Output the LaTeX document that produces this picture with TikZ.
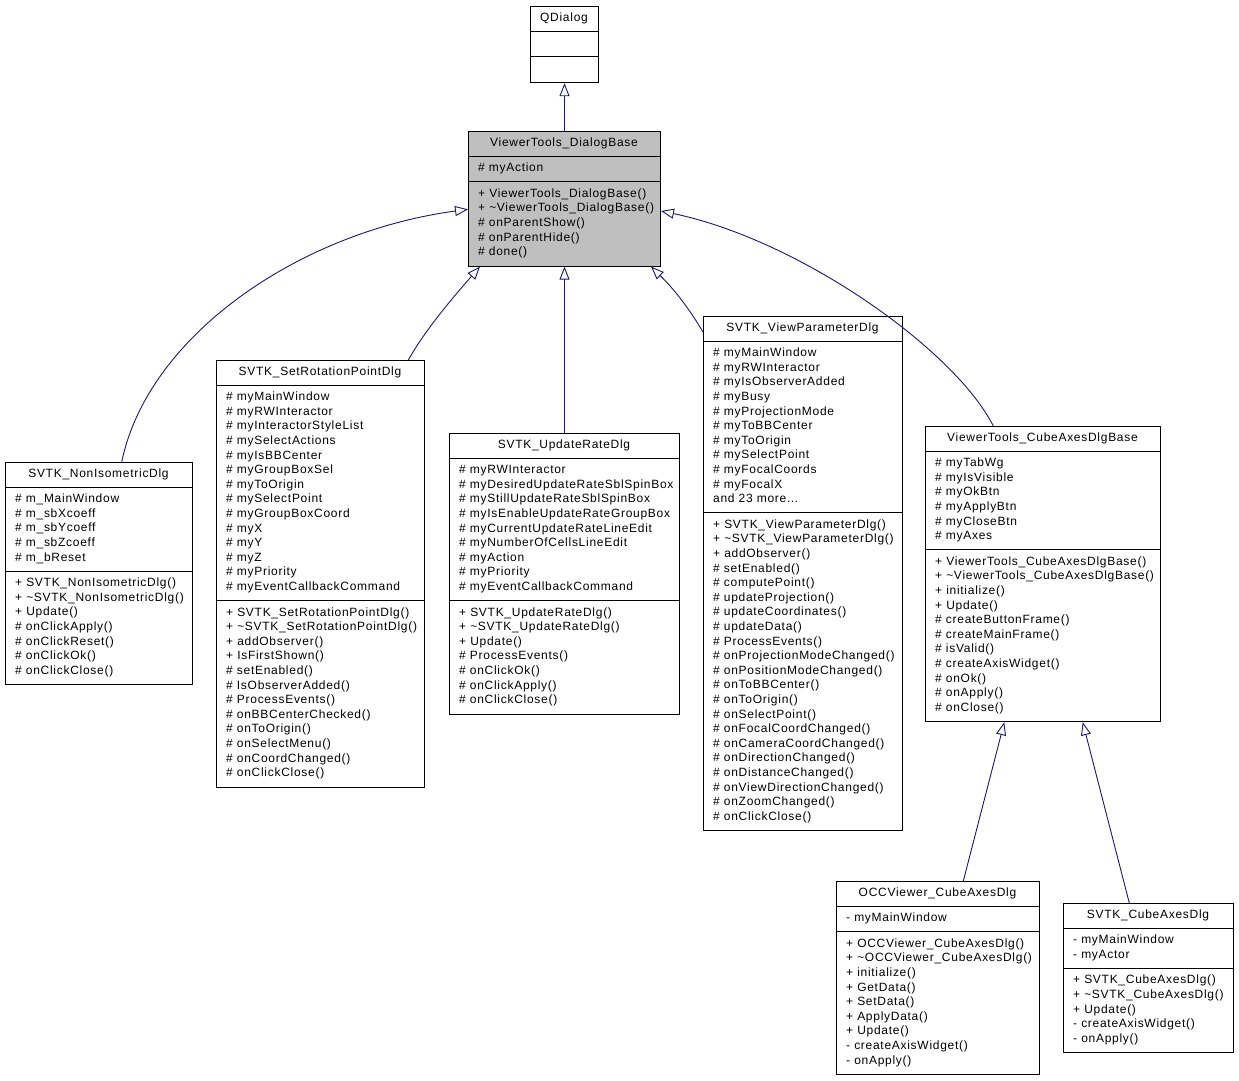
\documentclass[tikz,border=0pt]{standalone}
\usepackage{fontspec}
\newfontfamily\umlfont{Liberation Sans}[LetterSpace=6]
\usetikzlibrary{arrows.meta}
\definecolor{edgeblue}{RGB}{25,25,112}
\definecolor{basegray}{RGB}{191,191,191}
\tikzset{
  classbox/.style={draw=black, line width=1pt, rectangle, inner sep=0pt},
  divider/.style={draw=black, line width=1pt},
  titletext/.style={anchor=base, inner sep=0pt, font=\umlfont\fontsize{12}{14}\selectfont},
  membertext/.style={anchor=base west, inner sep=0pt, font=\umlfont\fontsize{12}{14}\selectfont},
  inherit/.style={draw=edgeblue, line width=0.9pt,
    -{Triangle[open, length=13pt, width=10pt, fill=white]}},
}
\def\clsfill{white}
\newcommand\moredots{.\kern0.5pt.\kern0.5pt.}
% #1 name, #2 x, #3 y, #4 width, #5 title, #6 n attrs, #7 attrs, #8 n methods, #9 methods
\newcommand\umlclass[9]{%
  \pgfmathsetmacro\ha{ifthenelse(#6==0,25.6,#6*14.6+11)}%
  \pgfmathsetmacro\hm{ifthenelse(#8==0,25.6,#8*14.6+11)}%
  \pgfmathsetmacro\htot{25+\ha+\hm}%
  \node[classbox, fill=\clsfill, minimum width=#4pt, minimum height=\htot pt, anchor=north west] (#1) at (#2,#3) {};
  \draw[divider] (#2,{#3+25}) -- ({#2+#4},{#3+25});
  \draw[divider] (#2,{#3+25+\ha}) -- ({#2+#4},{#3+25+\ha});
  \node[titletext] (#1-title) at ({#2+#4/2},{#3+15.8}) {#5};
  \ifnum#6>0
    \foreach \t [count=\i] in {#7} \node[membertext] (#1-a\i) at ({#2+10},{#3+25+15.6+(\i-1)*14.6}) {\t};
  \fi
  \ifnum#8>0
    \foreach \t [count=\i] in {#9} \node[membertext] (#1-m\i) at ({#2+10},{#3+25+\ha+15.6+(\i-1)*14.6}) {\t};
  \fi
}
\begin{document}
\begin{tikzpicture}[x=1pt, y=-1pt]
\useasboundingbox[fill=white] (0,0) rectangle (1239,1080);

\umlclass{qd}{530}{6}{68}{QDialog}{0}{}{0}{}

\def\clsfill{basegray}
\umlclass{base}{468}{131}{192}{ViewerTools\_DialogBase}{1}{\# myAction}{5}{+ ViewerTools\_DialogBase(), + \textasciitilde ViewerTools\_DialogBase(), \# onParentShow(), \# onParentHide(), \# done()}
\def\clsfill{white}

\umlclass{nis}{5}{462}{187}{SVTK\_NonIsometricDlg}{5}{\# m\_MainWindow, \# m\_sbXcoeff, \# m\_sbYcoeff, \# m\_sbZcoeff, \# m\_bReset}{7}{+ SVTK\_NonIsometricDlg(), + \textasciitilde SVTK\_NonIsometricDlg(), + Update(), \# onClickApply(), \# onClickReset(), \# onClickOk(), \# onClickClose()}

\umlclass{srp}{216}{360}{208}{SVTK\_SetRotationPointDlg}{14}{\# myMainWindow, \# myRWInteractor, \# myInteractorStyleList, \# mySelectActions, \# myIsBBCenter, \# myGroupBoxSel, \# myToOrigin, \# mySelectPoint, \# myGroupBoxCoord, \# myX, \# myY, \# myZ, \# myPriority, \# myEventCallbackCommand}{12}{+ SVTK\_SetRotationPointDlg(), + \textasciitilde SVTK\_SetRotationPointDlg(), + addObserver(), + IsFirstShown(), \# setEnabled(), \# IsObserverAdded(), \# ProcessEvents(), \# onBBCenterChecked(), \# onToOrigin(), \# onSelectMenu(), \# onCoordChanged(), \# onClickClose()}

\umlclass{urd}{449}{433}{230}{SVTK\_UpdateRateDlg}{9}{\# myRWInteractor, \# myDesiredUpdateRateSblSpinBox, \# myStillUpdateRateSblSpinBox, \# myIsEnableUpdateRateGroupBox, \# myCurrentUpdateRateLineEdit, \# myNumberOfCellsLineEdit, \# myAction, \# myPriority, \# myEventCallbackCommand}{7}{+ SVTK\_UpdateRateDlg(), + \textasciitilde SVTK\_UpdateRateDlg(), + Update(), \# ProcessEvents(), \# onClickOk(), \# onClickApply(), \# onClickClose()}

\umlclass{vpd}{703}{316}{199}{SVTK\_ViewParameterDlg}{11}{\# myMainWindow, \# myRWInteractor, \# myIsObserverAdded, \# myBusy, \# myProjectionMode, \# myToBBCenter, \# myToOrigin, \# mySelectPoint, \# myFocalCoords, \# myFocalX, and 23 more\moredots}{21}{+ SVTK\_ViewParameterDlg(), + \textasciitilde SVTK\_ViewParameterDlg(), + addObserver(), \# setEnabled(), \# computePoint(), \# updateProjection(), \# updateCoordinates(), \# updateData(), \# ProcessEvents(), \# onProjectionModeChanged(), \# onPositionModeChanged(), \# onToBBCenter(), \# onToOrigin(), \# onSelectPoint(), \# onFocalCoordChanged(), \# onCameraCoordChanged(), \# onDirectionChanged(), \# onDistanceChanged(), \# onViewDirectionChanged(), \# onZoomChanged(), \# onClickClose()}

\umlclass{cab}{925}{426}{235}{ViewerTools\_CubeAxesDlgBase}{6}{\# myTabWg, \# myIsVisible, \# myOkBtn, \# myApplyBtn, \# myCloseBtn, \# myAxes}{11}{+ ViewerTools\_CubeAxesDlgBase(), + \textasciitilde ViewerTools\_CubeAxesDlgBase(), + initialize(), + Update(), \# createButtonFrame(), \# createMainFrame(), \# isValid(), \# createAxisWidget(), \# onOk(), \# onApply(), \# onClose()}

\umlclass{occ}{836}{881}{203}{OCCViewer\_CubeAxesDlg}{1}{- myMainWindow}{9}{+ OCCViewer\_CubeAxesDlg(), + \textasciitilde OCCViewer\_CubeAxesDlg(), + initialize(), + GetData(), + SetData(), + ApplyData(), + Update(), - createAxisWidget(), - onApply()}

\umlclass{sca}{1063}{903}{170}{SVTK\_CubeAxesDlg}{2}{- myMainWindow, - myActor}{5}{+ SVTK\_CubeAxesDlg(), + \textasciitilde SVTK\_CubeAxesDlg(), + Update(), - createAxisWidget(), - onApply()}

% inheritance connectors
\draw[inherit] (base.north) -- (qd.south);
\draw[inherit] ([xshift=116.7pt]nis.north west) .. controls (148,335) and (300,232) .. ([yshift=-10.5pt]base.west);
\draw[inherit] ([xshift=192.3pt]srp.north west) .. controls (425,330) and (455,295) .. ([xshift=12pt]base.south west);
\draw[inherit] (urd.north) -- (base.south);
\draw[inherit] ([yshift=-16pt]vpd.north west) .. controls (690,310) and (675,290) .. ([xshift=-10pt]base.south east);
\draw[inherit] ([xshift=68.3pt]cab.north west) .. controls (955,350) and (800,240) .. ([yshift=-12.2pt]base.east);
\draw[inherit] ([xshift=127.3pt]occ.north west) -- ([xshift=79.3pt]cab.south west);
\draw[inherit] ([xshift=66.3pt]sca.north west) -- ([xshift=157.7pt]cab.south west);
\end{tikzpicture}
\end{document}
